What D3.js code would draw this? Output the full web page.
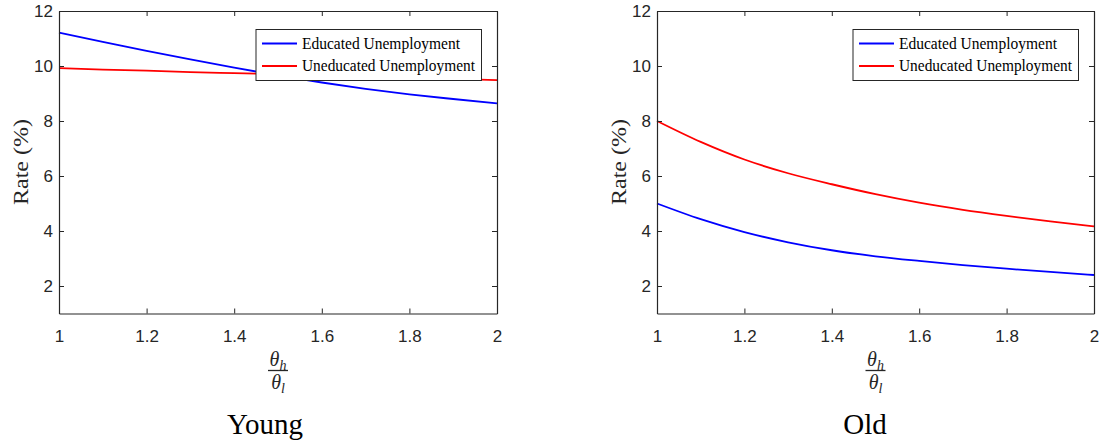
<!DOCTYPE html>
<html>
<head>
<meta charset="utf-8">
<script src="https://cdn.jsdelivr.net/npm/d3@7"></script>
<style>
  html, body { margin: 0; padding: 0; background: #fff; }
  svg { display: block; }
  .tick text { font-family: "Liberation Sans", Arial, sans-serif; font-size: 17px; fill: #262626; }
  .domain, .tick line { stroke: #262626; }
</style>
</head>
<body>
<svg id="chart" width="1101" height="442"></svg>
<script>
// ---- data ----
const xValues = [1.0, 1.1, 1.2, 1.3, 1.4, 1.5, 1.6, 1.7, 1.8, 1.9, 2.0];
const youngEducated   = [11.21, 10.88, 10.55, 10.24, 9.94, 9.66, 9.40, 9.17, 8.97, 8.80, 8.64];
const youngUneducated = [9.92, 9.87, 9.83, 9.78, 9.74, 9.70, 9.66, 9.61, 9.57, 9.53, 9.49];
const oldEducated     = [5.00, 4.43, 3.96, 3.59, 3.30, 3.08, 2.91, 2.76, 2.63, 2.51, 2.40];
const oldUneducated   = [8.00, 7.24, 6.60, 6.10, 5.70, 5.34, 5.03, 4.77, 4.55, 4.35, 4.17];
const xTicks = [1, 1.2, 1.4, 1.6, 1.8, 2];
const yTicks = [2, 4, 6, 8, 10, 12];
const seriesNames = ["Educated Unemployment", "Uneducated Unemployment"];
const seriesColors = ["#0000ff", "#ff0000"];
const panelTitles = ["Young", "Old"];
const yLabel = "Rate (%)";

const panels = [
  { title: panelTitles[0], series: [youngEducated, youngUneducated], x0: 59, x1: 497, titleX: 265 },
  { title: panelTitles[1], series: [oldEducated, oldUneducated], x0: 657, x1: 1094, titleX: 865 }
];

const svg = d3.select("#chart");
const yTop = 11, yBot = 313.5;
const fmt = d3.format("~g");

panels.forEach(p => {
  const x = d3.scaleLinear().domain([1, 2]).range([p.x0, p.x1]);
  const y = d3.scaleLinear().domain([1, 12]).range([yBot, yTop]);
  const g = svg.append("g");

  // lines
  const line = d3.line().x((d, i) => x(xValues[i])).y(d => y(d)).curve(d3.curveMonotoneX);
  p.series.forEach((s, k) => {
    g.append("path").datum(s).attr("d", line)
      .attr("fill", "none").attr("stroke", seriesColors[k]).attr("stroke-width", 1.8);
  });

  // axes (box with inward ticks)
  const bottom = g.append("g").attr("transform", `translate(0,${yBot})`)
    .call(d3.axisBottom(x).tickValues(xTicks).tickFormat(fmt).tickSizeInner(-5).tickSizeOuter(0).tickPadding(16));
  g.append("g").attr("transform", `translate(0,${yTop})`)
    .call(d3.axisTop(x).tickValues(xTicks).tickFormat("").tickSizeInner(-5).tickSizeOuter(0));
  const left = g.append("g").attr("transform", `translate(${p.x0},0)`)
    .call(d3.axisLeft(y).tickValues(yTicks).tickFormat(fmt).tickSizeInner(-5).tickSizeOuter(0).tickPadding(6));
  g.append("g").attr("transform", `translate(${p.x1},0)`)
    .call(d3.axisRight(y).tickValues(yTicks).tickFormat("").tickSizeInner(-5).tickSizeOuter(0));
  g.selectAll(".domain").attr("stroke-width", 1.2);
  bottom.selectAll(".tick text").attr("dy", "0.71em");
  left.selectAll(".tick text").attr("dy", "0.35em");

  // legend
  const lx = p.x1 - 241, ly = 29.5, lw = 225.5, lh = 51;
  const lg = g.append("g");
  lg.append("rect").attr("x", lx).attr("y", ly).attr("width", lw).attr("height", lh)
    .attr("fill", "#fff").attr("stroke", "#262626").attr("stroke-width", 1);
  seriesNames.forEach((name, k) => {
    const yy = ly + 14 + k * 22.5;
    lg.append("line").attr("x1", lx + 6).attr("x2", lx + 41).attr("y1", yy).attr("y2", yy)
      .attr("stroke", seriesColors[k]).attr("stroke-width", 1.8);
    lg.append("text").attr("x", lx + 46).attr("y", yy + 5)
      .attr("font-family", "'Liberation Serif',serif")
      .attr("font-size", 17).attr("fill", "#000")
      .attr("textLength", k === 0 ? 158 : 173).attr("lengthAdjust", "spacingAndGlyphs")
      .text(name);
  });

  // y label
  g.append("text").attr("transform", `translate(${p.x0 - 31},162) rotate(-90)`)
    .attr("text-anchor", "middle")
    .attr("font-family", "'Liberation Serif',serif").attr("font-size", 20).attr("fill", "#262626")
    .attr("textLength", 86).attr("lengthAdjust", "spacingAndGlyphs")
    .text(yLabel);

  // x label: theta_h / theta_l
  const fx = (p.x0 + p.x1) / 2;
  const num = g.append("text").attr("x", fx).attr("y", 366).attr("text-anchor", "middle")
    .attr("font-family", "'Liberation Serif',serif").attr("font-style", "italic").attr("font-size", 20).attr("fill", "#262626");
  num.append("tspan").text("θ");
  num.append("tspan").attr("font-size", 14).attr("dy", 4).text("h");
  g.append("line").attr("x1", fx - 10).attr("x2", fx + 10).attr("y1", 370.5).attr("y2", 370.5)
    .attr("stroke", "#262626").attr("stroke-width", 1.3);
  const den = g.append("text").attr("x", fx).attr("y", 389).attr("text-anchor", "middle")
    .attr("font-family", "'Liberation Serif',serif").attr("font-style", "italic").attr("font-size", 20).attr("fill", "#262626");
  den.append("tspan").text("θ");
  den.append("tspan").attr("font-size", 14).attr("dy", 4).text("l");

  // panel title
  g.append("text").attr("x", p.titleX).attr("y", 434).attr("text-anchor", "middle")
    .attr("font-family", "'Liberation Serif',serif").attr("font-size", 29).attr("fill", "#000")
    .text(p.title);
});
</script>
</body>
</html>
